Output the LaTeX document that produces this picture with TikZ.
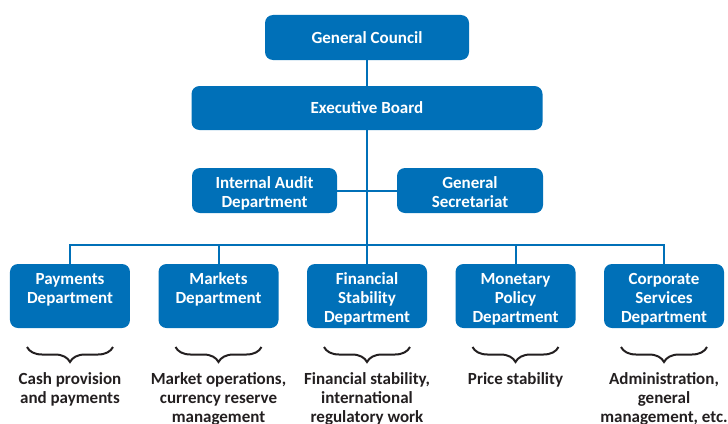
\documentclass[tikz,border=0pt]{standalone}
\usepackage{fontspec}
\setmainfont{Carlito}
\usetikzlibrary{positioning}
\usetikzlibrary{decorations.pathreplacing}
\definecolor{bankblue}{RGB}{0,112,184}
\definecolor{notegray}{RGB}{35,31,32}
% invisible height on the first line, pushes box text down a little
\newcommand{\sinkby}[1]{\rule{0pt}{#1}}

\begin{document}
\begin{tikzpicture}[x=1bp, y=1bp, line width=2bp,
    box/.style = {fill=bankblue, text=white, rounded corners=8bp, align=center, inner sep=0pt, outer sep=0pt,
                  font=\fontsize{17bp}{19bp}\selectfont\bfseries},
    dept/.style = {box, minimum width=120bp, minimum height=64bp},
    link/.style = {draw=bankblue},
    brace/.style = {draw=notegray, decorate, decoration={brace, mirror, amplitude=15bp}},
    note/.style = {text=notegray, align=center, inner sep=0pt, outer sep=0pt,
                   font=\fontsize{17bp}{19bp}\selectfont\bfseries}]
    \useasboundingbox (0,0) rectangle (728,423);

    % top of the chart
    \node[box, minimum width=204bp, minimum height=45bp] (gc) at (367,385.5) {General Council};
    \node[box, minimum width=351bp, minimum height=44bp, below=26bp of gc] (eb) {Executive Board};
    \node[box, minimum width=145bp, minimum height=45bp, below left=38bp and 30bp of eb.south] (ia) {\sinkby{17bp}Internal Audit\\Department};
    \node[box, minimum width=146bp, minimum height=45bp, below right=38bp and 30bp of eb.south] (gs) {\sinkby{16bp}General\\Secretariat};

    % departments (two-line names keep an empty third line so they sit at the top)
    \node[dept, below=134bp of eb.south] (fin) {\sinkby{18bp}Financial\\Stability\\Department};
    \node[dept, left=28.5bp of fin] (mkt) {\sinkby{18bp}Markets\\Department\\\vphantom{p}};
    \node[dept, left=28.5bp of mkt] (pay) {\sinkby{18bp}Payments\\Department\\\vphantom{p}};
    \node[dept, right=28.5bp of fin] (mon) {\sinkby{18bp}Monetary\\Policy\\Department};
    \node[dept, right=28.5bp of mon] (cs) {\sinkby{18bp}Corporate\\Services\\Department};
    \coordinate[above=19bp of fin.north] (bus);

    \draw[link] (gc) -- (eb);
    \draw[link] (eb) -- (fin);
    \draw[link] (ia) -- (gs);
    \draw[link] (pay.north) |- (bus) -| (cs.north);
    \foreach \d in {mkt, mon}
        \draw[link] (\d.north) -- (\d.north |- bus);

    % what each department does
    \foreach \d/\txt in {pay/{Cash provision\\and payments},
                         mkt/{Market operations,\\currency reserve\\management},
                         fin/{Financial stability,\\international\\regulatory work},
                         mon/{Price stability},
                         cs/{Administration,\\general\\management, etc.}} {
        \coordinate (\d-l) at ([xshift=-43bp, yshift=-19bp]\d.south);
        \coordinate (\d-r) at ([xshift=43bp, yshift=-19bp]\d.south);
        \draw[brace] (\d-l) -- (\d-r);
        \node[note, below=45bp of \d.south] (\d-note) {\txt};
    }
\end{tikzpicture}
\end{document}
